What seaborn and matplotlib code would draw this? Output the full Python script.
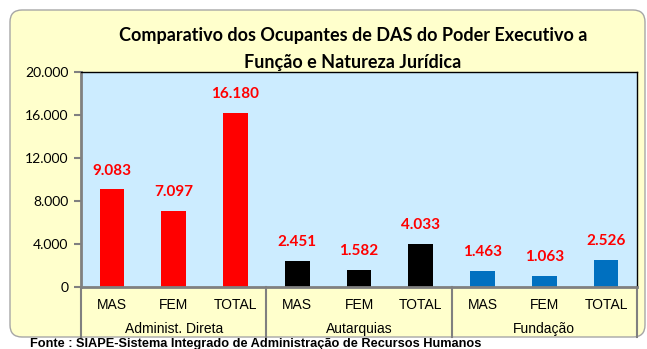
import matplotlib
matplotlib.use("Agg")
import matplotlib.pyplot as plt
from matplotlib.patches import FancyBboxPatch
import seaborn as sns
import pandas as pd

# Dados
grupos = ["Administ. Direta", "Autarquias", "Fundação"]
sexos = ["MAS", "FEM", "TOTAL"]
adm_direta = [9083, 7097, 16180]
autarquias = [2451, 1582, 4033]
fundacao = [1463, 1063, 2526]
cores_grupo = ["#FF0000", "#000000", "#0070C0"]
y_ticks = [0, 4000, 8000, 12000, 16000, 20000]

titulo = "Comparativo dos Ocupantes de DAS do Poder Executivo a\nFunção e Natureza Jurídica"
fonte = "Fonte : SIAPE-Sistema Integrado de Administração de Recursos Humanos"

valores = [adm_direta, autarquias, fundacao]
linhas = []
for g, vals in zip(grupos, valores):
    for s, v in zip(sexos, vals):
        linhas.append({"grupo": g, "sexo": s, "chave": f"{g}|{s}", "valor": v})
df = pd.DataFrame(linhas)

W, H = 647, 349
fig = plt.figure(figsize=(W / 100, H / 100), dpi=100)
fig.patch.set_facecolor("white")

# Painel de fundo arredondado (coordenadas em polegadas)
painel = FancyBboxPatch((0.10, (H - 337) / 100), 6.35, 3.27,
                        boxstyle="round,pad=0,rounding_size=0.12",
                        transform=fig.dpi_scale_trans, facecolor="#FFFFCC",
                        edgecolor="#A6A6A6", linewidth=1.0, zorder=-5)
fig.patches.append(painel)

x0, x1, y0, y1 = 81, 637, 72, 287
ax = fig.add_axes([x0 / W, 1 - y1 / H, (x1 - x0) / W, (y1 - y0) / H])
ax.set_zorder(2)
ax.set_facecolor("#CCECFF")

sns.barplot(data=df, x="chave", y="valor", hue="grupo", palette=cores_grupo,
            dodge=False, width=0.4, legend=False, ax=ax, saturation=1,
            order=list(df["chave"]), hue_order=grupos)

ax.set_ylim(0, 20000)
ax.set_xlim(-0.5, len(df) - 0.5)
ax.set_yticks(y_ticks)
ax.set_yticklabels([f"{t:,}".replace(",", ".") for t in y_ticks],
                   fontfamily="Lato", fontsize=10)
ax.tick_params(axis="y", length=5, width=1.5, color="#808080", pad=4)
ax.set_xticks(range(len(df)))
ax.set_xticklabels(df["sexo"], fontfamily="Liberation Sans", fontsize=10)
ax.tick_params(axis="x", length=0, pad=8)
ax.set_xlabel("")
ax.set_ylabel("")

for lado in ("top", "right"):
    ax.spines[lado].set_color("black")
    ax.spines[lado].set_linewidth(1.0)
for lado in ("left", "bottom"):
    ax.spines[lado].set_color("#808080")
    ax.spines[lado].set_linewidth(2.0)

# Rótulos de valor
for i, v in enumerate(df["valor"]):
    ax.annotate(f"{v:,}".replace(",", "."), (i, v), xytext=(0, 8.5),
                textcoords="offset points", ha="center", va="bottom",
                color="#FF0000", fontsize=11, fontweight="bold",
                fontfamily="Lato")

# Eixo de categorias em dois níveis
trans = ax.get_xaxis_transform()
fundo = -(337 - 287) / (y1 - y0)
for xs in [-0.5, 2.5, 5.5, 8.5]:
    ax.plot([xs, xs], [0, fundo], transform=trans, color="#808080",
            linewidth=1.5, clip_on=False)
for k, g in enumerate(grupos):
    ax.text(3 * k + 1, -(329 - 287) / (y1 - y0), g, transform=trans,
            ha="center", va="center", fontfamily="Liberation Sans",
            fontsize=10)

fig.text(353 / W, 1 - 49 / H, titulo, ha="center",
         va="center", fontsize=13, fontweight="bold", fontfamily="Lato",
         linespacing=1.65)

fig.text(30 / W, 1 - 344 / H, fonte, ha="left", va="center", fontsize=9.2,
         fontweight="bold", fontfamily="Liberation Sans")

fig.savefig("out.png", dpi=100)
